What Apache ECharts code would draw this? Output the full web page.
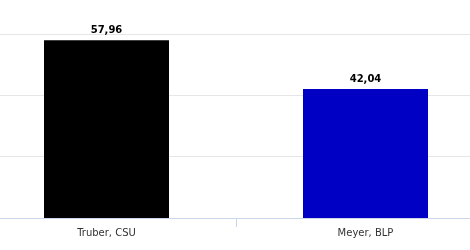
<!DOCTYPE html>
<html><head><meta charset="utf-8">
<script src="https://cdn.jsdelivr.net/npm/echarts@6/dist/echarts.min.js"></script>
<style>html,body{margin:0;padding:0;background:#fff}#c{width:470px;height:250px}</style>
</head><body><div id="c"></div>
<script>
const categories = ["Truber, CSU", "Meyer, BLP"];
const values = [57.96, 42.04];
const barColors = ["#000000", "#0000c4"];

const chart = echarts.init(document.getElementById('c'), null, {renderer: 'canvas'});
chart.setOption({
  animation: false,
  grid: {left: -23, right: -25, top: 34, bottom: 32, containLabel: false, outerBoundsMode: 'none'},
  xAxis: {
    type: 'category', data: categories,
    axisLine: {lineStyle: {color: '#ccd6eb', width: 1}},
    axisTick: {show: true, length: 9, lineStyle: {color: '#ccd6eb'}},
    axisLabel: {color: '#333', fontFamily: 'DejaVu Sans', fontSize: 10, margin: 10}
  },
  yAxis: {
    type: 'value', min: 0, max: 60, interval: 20,
    axisLabel: {show: false}, axisLine: {show: false}, axisTick: {show: false},
    splitLine: {lineStyle: {color: '#e6e6e6', width: 1}}
  },
  series: [{
    type: 'bar', barWidth: 125,
    data: values.map((v, i) => ({value: v, itemStyle: {color: barColors[i]}})),
    label: {
      show: true, position: 'top', distance: 5,
      fontFamily: 'DejaVu Sans', fontSize: 10, fontWeight: 'bold', color: '#000',
      formatter: p => p.value.toFixed(2).replace('.', ',')
    }
  }]
});
</script></body></html>
